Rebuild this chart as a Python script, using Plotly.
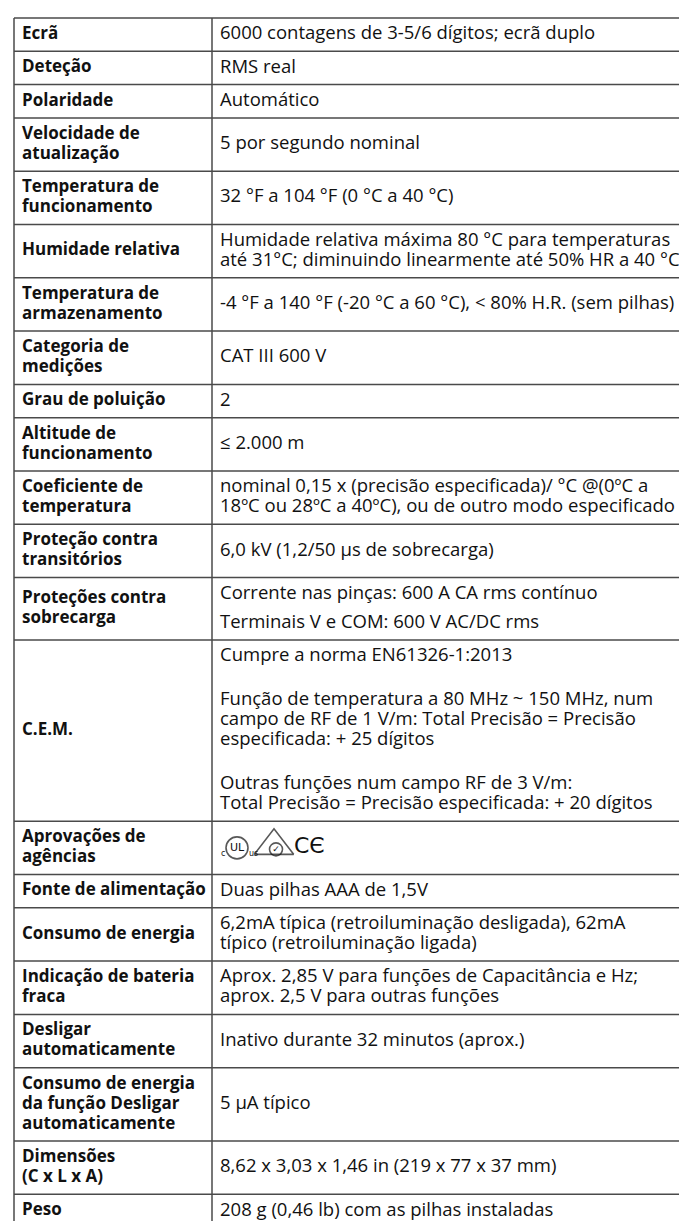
import plotly.graph_objects as go

# ---------------- data ----------------
labels = [
    ["Ecrã"],
    ["Deteção"],
    ["Polaridade"],
    ["Velocidade de", "atualização"],
    ["Temperatura de", "funcionamento"],
    ["Humidade relativa"],
    ["Temperatura de", "armazenamento"],
    ["Categoria de", "medições"],
    ["Grau de poluição"],
    ["Altitude de", "funcionamento"],
    ["Coeficiente de", "temperatura"],
    ["Proteção contra", "transitórios"],
    ["Proteções contra", "sobrecarga"],
    ["C.E.M."],
    ["Aprovações de", "agências"],
    ["Fonte de alimentação"],
    ["Consumo de energia"],
    ["Indicação de bateria", "fraca"],
    ["Desligar", "automaticamente"],
    ["Consumo de energia", "da função Desligar", "automaticamente"],
    ["Dimensões", "(C x L x A)"],
    ["Peso"],
]

# each value is a list of paragraphs, each paragraph a list of lines
values = [
    [["6000 contagens de 3-5/6 dígitos; ecrã duplo"]],
    [["RMS real"]],
    [["Automático"]],
    [["5 por segundo nominal"]],
    [["32 °F a 104 °F (0 °C a 40 °C)"]],
    [["Humidade relativa máxima 80 °C para temperaturas",
      "até 31°C; diminuindo linearmente até 50% HR a 40 °C"]],
    [["-4 °F a 140 °F (-20 °C a 60 °C), < 80% H.R. (sem pilhas)"]],
    [["CAT III 600 V"]],
    [["2"]],
    [["≤ 2.000 m"]],
    [["nominal 0,15 x (precisão especificada)/ °C @(0ºC a",
      "18ºC ou 28ºC a 40ºC), ou de outro modo especificado"]],
    [["6,0 kV (1,2/50 µs de sobrecarga)"]],
    [["Corrente nas pinças: 600 A CA rms contínuo"],
     ["Terminais V e COM: 600 V AC/DC rms"]],
    [["Cumpre a norma EN61326-1:2013"],
     ["Função de temperatura a 80 MHz ~ 150 MHz, num",
      "campo de RF de 1 V/m: Total Precisão = Precisão",
      "especificada: + 25 dígitos"],
     ["Outras funções num campo RF de 3 V/m:",
      "Total Precisão = Precisão especificada: + 20 dígitos"]],
    [],  # approval marks drawn as symbols
    [["Duas pilhas AAA de 1,5V"]],
    [["6,2mA típica (retroiluminação desligada), 62mA",
      "típico (retroiluminação ligada)"]],
    [["Aprox. 2,85 V para funções de Capacitância e Hz;",
      "aprox. 2,5 V para outras funções"]],
    [["Inativo durante 32 minutos (aprox.)"]],
    [["5 µA típico"]],
    [["8,62 x 3,03 x 1,46 in (219 x 77 x 37 mm)"]],
    [["208 g (0,46 lb) com as pilhas instaladas"]],
]

approval_text = ["c", "UL", "us", "✓", "CЄ"]

# ---------------- layout constants ----------------
W, H = 687, 1221
TOP = 10.0
LEFT = 6.0
DIV = 204.0
RIGHT = 720.0
BASE = 33.3          # height of a one-line row
STEP = 20.0          # line step
PAD_X = 8.0
PARA_GAP = {"Proteções contra": 9.0, "C.E.M.": 24.0}
FONT = "Open Sans"
FS_LAB = 17
FS_VAL = 18.5
TXT = "#111111"
LINE = "#4a4a4a"

# ---------------- geometry from content ----------------
bounds = [TOP]
lab_x, lab_y, lab_t = [], [], []
val_x, val_y, val_t = [], [], []
approval_y = None
for lab, val in zip(labels, values):
    gap = PARA_GAP.get(lab[0], 0.0)
    nval = sum(len(p) for p in val)
    nparas = max(len(val), 1)
    val_span = (max(nval, 1) - 1) * STEP + (nparas - 1) * gap
    lab_span = (len(lab) - 1) * STEP
    span = max(val_span, lab_span)
    h = BASE + span
    y0 = bounds[-1]
    yc = y0 + h / 2
    for i, t in enumerate(lab):
        lab_x.append(LEFT + PAD_X)
        lab_y.append(yc - lab_span / 2 + i * STEP)
        lab_t.append(t)
    yy = yc - val_span / 2
    for p in val:
        for t in p:
            val_x.append(DIV + PAD_X)
            val_y.append(yy)
            val_t.append(t)
            yy += STEP
        yy += gap
    if not val:
        approval_y = yc
    bounds.append(y0 + h)

# grid lines
gx, gy = [], []
for b in bounds:
    gx += [LEFT, RIGHT, None]
    gy += [b, b, None]
for xv in (LEFT, DIV):
    gx += [xv, xv, None]
    gy += [TOP, bounds[-1], None]

fig = go.Figure()
fig.add_trace(go.Scatter(x=gx, y=gy, mode="lines",
                         line=dict(color=LINE, width=1.5),
                         hoverinfo="skip"))
fig.add_trace(go.Scatter(x=lab_x, y=lab_y, text=lab_t, mode="text",
                         textposition="middle right",
                         textfont=dict(family=FONT, size=FS_LAB, color=TXT, weight="bold"),
                         cliponaxis=False, hoverinfo="skip"))
fig.add_trace(go.Scatter(x=val_x, y=val_y, text=val_t, mode="text",
                         textposition="middle right",
                         textfont=dict(family=FONT, size=FS_VAL, color=TXT),
                         cliponaxis=False, hoverinfo="skip"))

# approval marks (cULus, RCM, CE)
ax0 = DIV + PAD_X
ay = approval_y
fig.add_trace(go.Scatter(
    x=[ax0 + 17, ax0 + 54, ax0 + 56],
    y=[ay, ay - 2, ay + 1.5],
    mode="markers",
    marker=dict(symbol=["circle-open", "triangle-up-open", "circle-open"],
                size=[22, 34, 13], color=TXT, line=dict(width=1.6, color=TXT)),
    hoverinfo="skip"))
fig.add_trace(go.Scatter(
    x=[ax0 + 1, ax0 + 17, ax0 + 29, ax0 + 56, ax0 + 74],
    y=[ay + 6, ay, ay + 6, ay + 1.5, ay],
    text=approval_text,
    mode="text",
    textposition=["middle right", "middle center", "middle right",
                  "middle center", "middle right"],
    textfont=dict(family="DejaVu Sans", size=[8, 11, 8, 9, 22], color=TXT),
    hoverinfo="skip"))

fig.update_layout(
    width=W, height=H,
    margin=dict(l=0, r=0, t=0, b=0),
    paper_bgcolor="white", plot_bgcolor="white",
    showlegend=False,
    xaxis=dict(range=[0, W], visible=False, fixedrange=True),
    yaxis=dict(range=[H, 0], visible=False, fixedrange=True),
)
fig.write_html("out.html")
